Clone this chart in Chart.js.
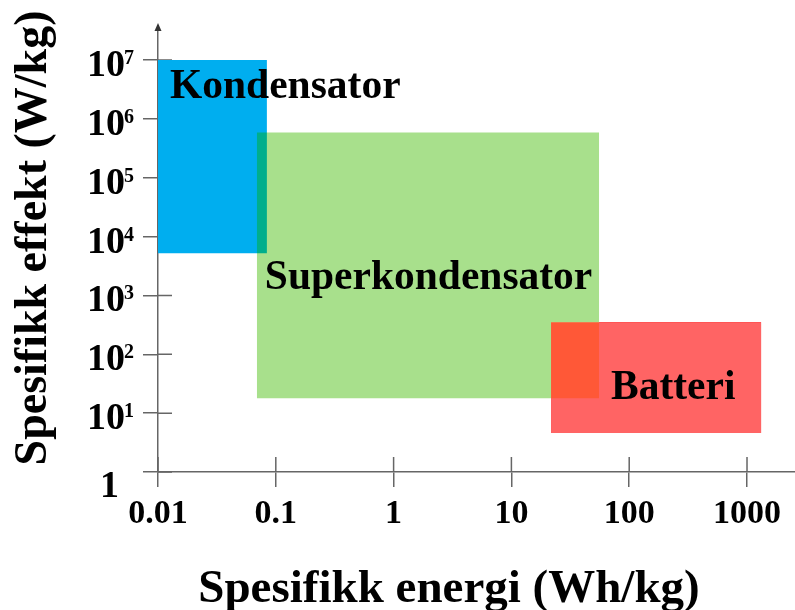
<!DOCTYPE html>
<html>
<head>
<meta charset="utf-8">
<script src="https://cdn.jsdelivr.net/npm/chart.js@4.4.1/dist/chart.umd.min.js"></script>
<style>
  html, body { margin: 0; padding: 0; background: #fff; }
  #wrap { width: 795px; height: 610px; }
</style>
</head>
<body>
<div id="wrap"><canvas id="chart" width="795" height="610"></canvas></div>
<script>
// --- data ---
const categories = ['Kondensator', 'Superkondensator', 'Batteri'];
const energyMin = [0.01, 0.069, 21.7];     // Wh/kg
const energyMax = [0.084, 55.6, 1317];
const powerMin = [5200, 18, 4.6];          // W/kg
const powerMax = [1e7, 5.9e5, 352];
const xTicks = [0.01, 0.1, 1, 10, 100, 1000];
const xTickLabels = ['0.01', '0.1', '1', '10', '100', '1000'];
const yTicks = [1, 10, 100, 1e3, 1e4, 1e5, 1e6, 1e7];
const yTickBases = ['1', '10', '10', '10', '10', '10', '10', '10'];
const yTickExponents = ['', '1', '2', '3', '4', '5', '6', '7'];
const xTitle = 'Spesifikk energi (Wh/kg)';
const yTitle = 'Spesifikk effekt (W/kg)';

// --- styles ---
const fills = ['#00AEEF', '#A8E08C', '#FF6464'];
const axisColor = '#666666';
const serif = "'Liberation Serif', 'Times New Roman', serif";
// label offset from each box's top-left corner, in pixels
const labelOffsets = [[12, 38], [8, 157], [60, 77]];

const datasets = categories.map((name, i) => ({
    label: name,
    data: [{ x: energyMin[i], y: powerMax[i] }, { x: energyMax[i], y: powerMax[i] }],
    showLine: true,
    borderWidth: 0,
    pointRadius: 0,
    backgroundColor: fills[i],
    fill: { value: powerMin[i] },
    order: categories.length - i
}));

const boxPlugin = {
    id: 'boxPlugin',
    beforeDatasetsDraw(chart) {
        const { ctx, scales: { x, y } } = chart;
        ctx.save();
        ctx.strokeStyle = axisColor;
        ctx.lineWidth = 1.5;
        ctx.beginPath();
        x.ticks.forEach(t => {
            const px = x.getPixelForValue(t.value);
            ctx.moveTo(px, y.bottom);
            ctx.lineTo(px, y.bottom - 15);
        });
        y.ticks.forEach(t => {
            const py = y.getPixelForValue(t.value);
            ctx.moveTo(x.left, py);
            ctx.lineTo(x.left + 14, py);
        });
        ctx.stroke();
        // arrow head at the top of the y axis
        ctx.fillStyle = '#333';
        ctx.beginPath();
        ctx.moveTo(x.left, y.top - 3);
        ctx.lineTo(x.left - 3.5, y.top + 5);
        ctx.lineTo(x.left + 3.5, y.top + 5);
        ctx.closePath();
        ctx.fill();
        ctx.restore();
    },
    afterDatasetDraw(chart, args) {
        const { ctx, scales: { x, y } } = chart;
        // blends for the overlaps: blue drawn first, then green, then red
        if (args.index === 0) ctx.globalCompositeOperation = 'darken';
        if (args.index === 1) ctx.globalCompositeOperation = 'multiply';
        if (args.index === 2) {
            const i = args.index;
            const x0 = x.getPixelForValue(energyMin[i]);
            const x1 = x.getPixelForValue(energyMax[i]);
            const y0 = y.getPixelForValue(powerMax[i]);
            const y1 = y.getPixelForValue(powerMin[i]);
            ctx.globalCompositeOperation = 'lighten';
            ctx.fillStyle = '#FF0000';
            ctx.fillRect(x0, y0, x1 - x0, y1 - y0);
            ctx.globalCompositeOperation = 'source-over';
        }
    },
    afterDraw(chart) {
        const { ctx, scales: { x, y } } = chart;
        ctx.save();
        ctx.fillStyle = '#000';
        ctx.textBaseline = 'alphabetic';

        // y tick labels with superscript exponents
        yTicks.forEach((v, i) => {
            const py = y.getPixelForValue(v);
            ctx.font = `bold 38px ${serif}`;
            if (!yTickExponents[i]) {
                ctx.textAlign = 'right';
                ctx.fillText(yTickBases[i], 119, py + 25);
                return;
            }
            ctx.textAlign = 'right';
            ctx.fillText(yTickBases[i], 125, py + 16);
            ctx.font = `bold 20px ${serif}`;
            ctx.textAlign = 'left';
            ctx.fillText(yTickExponents[i], 124, py + 4);
        });

        ctx.font = `bold 41.5px ${serif}`;
        ctx.textAlign = 'left';
        categories.forEach((name, i) => {
            const left = x.getPixelForValue(energyMin[i]);
            const top = y.getPixelForValue(powerMax[i]);
            ctx.fillText(name, left + labelOffsets[i][0], top + labelOffsets[i][1]);
        });

        ctx.textAlign = 'center';
        ctx.font = `bold 47px ${serif}`;
        ctx.fillText(xTitle, 449, 602);
        ctx.font = `bold 46px ${serif}`;
        ctx.translate(46, 238);
        ctx.rotate(-Math.PI / 2);
        ctx.fillText(yTitle, 0, 0);
        ctx.restore();
    }
};

const ctx = document.getElementById('chart').getContext('2d');
new Chart(ctx, {
    type: 'scatter',
    data: { datasets },
    options: {
        responsive: false,
        animation: false,
        devicePixelRatio: 1,
        layout: { padding: { top: 26, left: 0, right: 0, bottom: 0 } },
        plugins: {
            legend: { display: false },
            tooltip: { enabled: false }
        },
        scales: {
            x: {
                type: 'logarithmic',
                min: 0.01,
                max: 2555,
                afterBuildTicks: (scale) => { scale.ticks = xTicks.map(v => ({ value: v })); },
                afterFit: (scale) => { scale.height = 138; },
                border: { color: axisColor, width: 1.5 },
                grid: { drawOnChartArea: false, tickLength: 15, color: axisColor, lineWidth: 1.5 },
                ticks: {
                    autoSkip: false,
                    maxRotation: 0,
                    padding: 7,
                    color: '#000',
                    font: { family: serif, size: 34, weight: 'bold' },
                    callback: (v) => xTickLabels[xTicks.indexOf(v)]
                }
            },
            y: {
                type: 'logarithmic',
                min: 1,
                max: 3.8e7,
                afterBuildTicks: (scale) => { scale.ticks = yTicks.map(v => ({ value: v })); },
                afterFit: (scale) => { scale.width = 158; },
                border: { color: axisColor, width: 1.5 },
                grid: { drawOnChartArea: false, tickLength: 15, color: axisColor, lineWidth: 1.5 },
                ticks: { display: false }
            }
        }
    },
    plugins: [boxPlugin]
});
</script>
</body>
</html>
